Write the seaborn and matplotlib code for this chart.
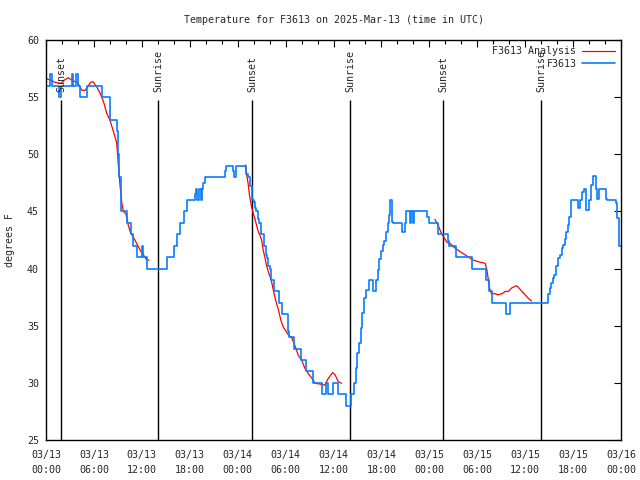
"""F3613 の気温（観測値と解析値）を gnuplot 風に再現する。"""

import matplotlib

matplotlib.use("Agg")
import matplotlib.dates as mdates
import matplotlib.pyplot as plt
import pandas as pd
import seaborn as sns

START = pd.Timestamp("2025-03-13 00:00")
END = pd.Timestamp("2025-03-16 00:00")
TITLE = "Temperature for F3613 on 2025-Mar-13 (time in UTC)"

# 観測値（ステップ表示）: 開始からの経過時間[h] と 気温[F]
obs_hours = [
    0.0, 0.5, 0.7, 1.65, 1.85, 3.25, 3.4, 3.8, 3.95, 4.3, 5.1, 6.95, 8.0, 8.95,
    9.05, 9.2, 9.35, 9.45, 10.1, 10.7, 10.9, 11.4, 12.0, 12.15, 12.6, 15.15,
    16.05, 16.45, 16.8, 17.3, 17.6, 18.6, 18.8, 18.95, 19.15, 19.35, 19.5, 19.7,
    19.9, 22.4, 22.55, 23.45, 23.6, 23.85, 25.05, 25.3, 25.6, 25.85, 26.05,
    26.2, 26.35, 26.5, 26.65, 26.9, 27.25, 27.5, 27.65, 27.8, 28.05, 28.15,
    28.6, 29.2, 29.6, 30.25, 30.4, 31.1, 31.9, 32.6, 33.45, 34.6, 35.0, 35.35,
    35.9, 36.6, 37.6, 38.15, 38.6, 38.8, 39.0, 39.2, 39.4, 39.6, 39.8, 40.05,
    40.4, 40.9, 41.3, 41.55, 41.75, 41.95, 42.15, 42.35, 42.6, 42.8, 42.95,
    43.1, 43.3, 43.45, 44.6, 44.9, 45.1, 45.6, 45.7, 45.95, 46.05, 47.75,
    47.95, 49.1, 50.35, 50.45, 51.35, 53.4, 55.1, 55.5, 55.85, 57.65, 58.1,
    62.85, 63.05, 63.25, 63.45, 63.65, 63.9, 64.1, 64.35, 64.55, 64.75, 64.95,
    65.15, 65.35, 65.55, 65.75, 66.6, 66.9, 67.1, 67.35, 67.65, 68.05, 68.25,
    68.45, 68.9, 69.05, 69.2, 70.1, 70.3, 71.4, 71.55, 71.7, 71.8, 72.0,
]
obs_temps = [
    56, 57, 56, 55, 56, 57, 56, 57, 56, 55, 56, 55, 53, 52,
    50, 48, 46.5, 45, 44, 43, 42, 41, 42, 41, 40, 41,
    42, 43, 44, 45, 46, 46.5, 47, 46, 47, 46, 47, 47.5,
    48, 48.5, 49, 48.5, 48, 49, 48.3, 48, 47.2, 46, 45.8,
    45.3, 45, 44.3, 44, 43, 42, 41.2, 40.9, 40.2, 40, 39,
    38, 37, 36, 34.5, 34, 33, 32, 31, 30, 29, 30, 29,
    30, 29, 28, 29, 30, 31.3, 32.6, 33.5, 34.8, 36.1, 37.4, 38.1,
    39, 38, 39, 39.9, 40.8, 41.5, 42.1, 42.4, 43.2, 44, 44.7,
    46, 44.1, 44, 43.2, 44, 45, 44, 45, 44, 45, 44.5,
    44, 43, 42.4, 42, 41, 40, 39, 38, 37, 36, 37,
    37.8, 38.3, 38.7, 39.15, 39.4, 40.2, 40.9, 41.2, 41.8, 42.1, 42.6,
    43.2, 43.8, 44.5, 46, 45.3, 46, 46.7, 47, 45.1, 46, 47.3,
    48.1, 47, 46.1, 47, 46.1, 46, 45.7, 44.4, 42.5, 42, 42,
]

# 解析値（3区間に分かれた折れ線）
analysis1_hours = [
    0.0, 0.6, 1.1, 1.5, 1.9, 2.3, 2.8, 3.1, 3.5, 3.95, 4.5, 4.9, 5.2, 5.6, 5.9,
    6.35, 6.8, 7.2, 7.6, 8.0, 8.4, 8.85, 9.05, 9.27, 9.5, 9.7, 10.0, 10.3,
    10.6, 10.9, 11.35, 11.8, 12.2, 12.6, 12.9,
]
analysis1_temps = [
    56.6, 56.5, 56.3, 56.25, 56.2, 56.5, 56.7, 56.55, 56.4, 56.3, 55.6, 55.6,
    55.9, 56.3, 56.35, 55.9, 55.3, 54.6, 53.6, 53.0, 52.1, 51.0, 49.2, 47.3,
    45.7, 45.0, 44.8, 43.8, 43.1, 42.8, 42.2, 41.6, 41.2, 40.75, 40.75,
]
analysis2_hours = [
    25.0, 25.1, 25.3, 25.5, 25.75, 25.96, 26.2, 26.4, 26.6, 26.8, 27.0, 27.2,
    27.4, 27.6, 27.85, 28.2, 28.5, 28.8, 29.1, 29.4, 29.7, 30.35, 30.8, 31.2,
    31.6, 32.0, 32.4, 32.85, 33.3, 33.7, 34.3, 34.9, 35.35, 35.9, 36.2, 36.6,
    37.0,
]
analysis2_temps = [
    49.06, 48.3, 47.5, 46.3, 45.4, 44.8, 44.25, 43.7, 43.2, 42.9, 42.5, 41.6,
    41.0, 40.3, 39.7, 39.0, 38.0, 37.1, 36.4, 35.5, 34.9, 34.2, 33.9, 33.2,
    32.4, 32.0, 31.3, 30.8, 30.4, 29.96, 29.9, 29.8, 30.4, 30.9, 30.7, 30.1,
    29.96,
]
analysis3_hours = [
    48.7, 49.1, 49.5, 50.2, 50.6, 51.2, 51.8, 52.7, 53.5, 54.1, 55.0, 55.2,
    55.4, 55.6, 55.8, 56.2, 56.6, 57.1, 57.5, 57.9, 58.3, 58.9, 59.1, 59.6,
    60.0, 60.4, 60.8,
]
analysis3_temps = [
    44.3, 43.8, 43.1, 42.3, 42.2, 41.8, 41.5, 41.1, 40.75, 40.6, 40.46, 39.9,
    39.0, 38.1, 37.8, 37.8, 37.7, 37.8, 38.0, 38.0, 38.3, 38.5, 38.4, 38.0,
    37.7, 37.4, 37.16,
]

# 日の出・日の入り（経過時間[h]）
sun_hours = [1.88, 14.02, 25.8, 38.07, 49.7, 62.0]
sun_labels = ["Sunset", "Sunrise", "Sunset", "Sunrise", "Sunset", "Sunrise"]


def to_time(hours):
    return START + pd.to_timedelta(hours, unit="h")


sns.set_style("white")
plt.rcParams["font.family"] = ["DejaVu Sans Mono"]
plt.rcParams["font.size"] = 7.2

fig = plt.figure(figsize=(6.4, 4.8), dpi=100)
ax = fig.add_axes([46 / 640, 40 / 480, 575 / 640, 400 / 480])

analysis = [
    (analysis1_hours, analysis1_temps),
    (analysis2_hours, analysis2_temps),
    (analysis3_hours, analysis3_temps),
]
for i, (hours, temps) in enumerate(analysis):
    sns.lineplot(
        x=to_time(hours), y=temps, ax=ax, color="#ff0000", linewidth=0.9,
        estimator=None, sort=False, label="F3613 Analysis" if i == 0 else None,
    )
sns.lineplot(
    x=to_time(obs_hours), y=obs_temps, ax=ax, color="#0a7cff", linewidth=1.2,
    estimator=None, sort=False, drawstyle="steps-post", label="F3613",
)

for hour, name in zip(sun_hours, sun_labels):
    t = to_time(hour)
    ax.vlines(t, 25, 54.75, color="black", linewidth=1.0, zorder=1)
    ax.text(t, 55.45, name, rotation=90, ha="center", va="bottom", fontsize=7.2)

ax.set_xlim(START, END)
ax.set_ylim(25, 60)
ax.set_yticks(range(25, 61, 5))
ax.xaxis.set_major_locator(mdates.HourLocator(byhour=[0, 6, 12, 18]))
ax.xaxis.set_minor_locator(mdates.HourLocator(byhour=range(0, 24, 2)))
ax.xaxis.set_major_formatter(mdates.DateFormatter("%m/%d\n%H:%M"))
ax.tick_params(which="both", direction="in", top=True, right=True, color="black",
               labelsize=7.2)
ax.tick_params(which="major", length=5, width=0.8)
ax.tick_params(which="minor", length=3, width=0.8)
ax.tick_params(axis="x", which="major", pad=7)
ax.tick_params(axis="y", which="major", pad=5)
for label in ax.get_xticklabels():
    label.set_linespacing(1.6)
for spine in ax.spines.values():
    spine.set_color("black")
    spine.set_linewidth(1.0)
ax.set_xlabel("")
ax.set_ylabel("")

ax.legend(loc="upper right", frameon=False, markerfirst=False, handlelength=3.3,
          handletextpad=0.5, labelspacing=0.25, borderaxespad=0.25, fontsize=7.2)

fig.text(333.5 / 640, 1 - 20 / 480, TITLE, ha="center", va="center")
fig.text(10 / 640, 0.5, "degrees F", rotation=90, ha="center", va="center")

fig.savefig("out.png", dpi=100)
